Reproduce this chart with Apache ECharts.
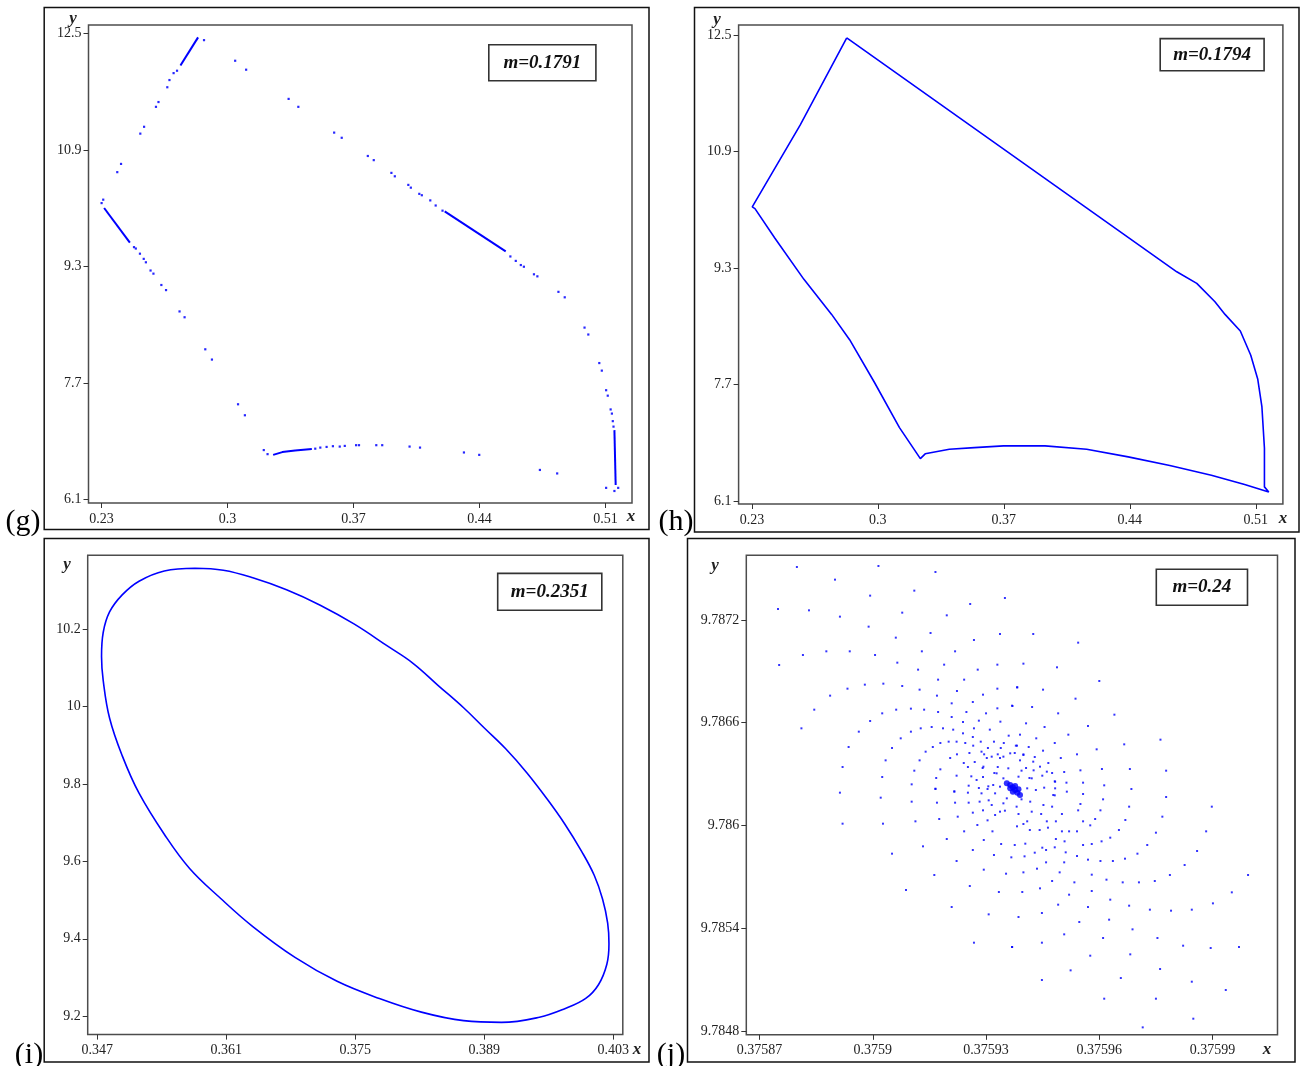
<!DOCTYPE html>
<html><head><meta charset="utf-8">
<script src="https://cdn.jsdelivr.net/npm/echarts@6/dist/echarts.min.js"></script>
<style>html,body{margin:0;padding:0;background:#fff}#c{width:1301px;height:1066px}</style>
</head><body><div id="c"></div>
<script>
// ---------- tick values ----------
const gXTicks = [0.23, 0.3, 0.37, 0.44, 0.51];
const gYTicks = [6.1, 7.7, 9.3, 10.9, 12.5];
const hXTicks = [0.23, 0.3, 0.37, 0.44, 0.51];
const hYTicks = [6.1, 7.7, 9.3, 10.9, 12.5];
const iXTicks = [0.347, 0.361, 0.375, 0.389, 0.403];
const iYTicks = [9.2, 9.4, 9.6, 9.8, 10, 10.2];
const jXTicks = [0.37587, 0.3759, 0.37593, 0.37596, 0.37599];
const jYTicks = [9.7848, 9.7854, 9.786, 9.7866, 9.7872];
const panelLabels = ['(g)', '(h)', '(i)', '(j)'];
const mLabels = ['m=0.1791', 'm=0.1794', 'm=0.2351', 'm=0.24'];

// ---------- (g) m=0.1791 : scattered points + dense segments ----------
const gDots = [
  [0.2387,10.597],[0.2408,10.710],[0.2515,11.126],[0.2536,11.220],[0.2602,11.494],[0.2616,11.560],[0.2665,11.763],[0.2677,11.862],[0.2700,11.957],[0.2719,11.990],[0.2869,12.410],
  [0.2309,10.219],[0.2300,10.172],[0.2480,9.567],[0.2490,9.548],[0.2513,9.477],[0.2534,9.406],[0.2546,9.359],[0.2572,9.246],[0.2588,9.203],[0.2632,9.047],[0.2658,8.977],[0.2733,8.684],[0.2761,8.604],[0.2876,8.164],[0.2913,8.023],[0.3058,7.409],[0.3096,7.258],
  [0.3201,6.780],[0.3222,6.724],[0.3487,6.799],[0.3515,6.814],[0.3550,6.823],[0.3585,6.833],[0.3623,6.828],[0.3651,6.837],[0.3714,6.847],[0.3730,6.847],[0.3826,6.847],[0.3859,6.847],[0.4011,6.828],[0.4069,6.814],[0.4313,6.747],[0.4398,6.714],[0.4735,6.507],[0.4831,6.459],
  [0.4838,8.953],[0.4873,8.878],[0.4983,8.462],[0.5004,8.367],[0.5065,7.975],[0.5079,7.871],[0.5103,7.602],[0.5112,7.527],[0.5128,7.338],[0.5135,7.281],[0.5140,7.177],[0.5144,7.102],[0.5103,6.261],[0.5149,6.218],[0.5170,6.261],
  [0.3042,12.127],[0.3103,12.004],[0.3339,11.603],[0.3393,11.494],[0.3592,11.140],[0.3634,11.069],[0.3779,10.819],[0.3812,10.762],[0.3910,10.587],[0.3929,10.540],[0.4004,10.422],[0.4018,10.384],[0.4065,10.299],[0.4079,10.280],[0.4126,10.209],[0.4156,10.139],[0.4194,10.068],[0.4571,9.439],[0.4601,9.378],[0.4629,9.321],[0.4646,9.298],[0.4702,9.194],[0.4721,9.166]
];
const gSegA = [[0.2738,12.061],[0.2836,12.448]];
const gSegB = [[0.2314,10.105],[0.2457,9.628]];
const gSegC = [[0.4206,10.058],[0.4545,9.510]];
const gSegD = [[0.3253,6.714],[0.3304,6.752],[0.3375,6.775],[0.3468,6.795]];
const gSegE = [[0.5149,7.054],[0.5156,6.299]];

// ---------- (h) m=0.1794 : closed orbit ----------
const hPath = [
  [0.2827,12.460],[0.2568,11.262],[0.2302,10.140],[0.2317,10.116],
  [0.2427,9.712],[0.2589,9.144],[0.2743,8.663],[0.2843,8.315],[0.2982,7.724],[0.3120,7.108],[0.3236,6.682],
  [0.3263,6.748],[0.3397,6.810],[0.3536,6.833],[0.3698,6.857],[0.3929,6.857],[0.4160,6.810],[0.4391,6.706],[0.4622,6.588],[0.4853,6.455],[0.5038,6.327],[0.5172,6.223],
  [0.5148,6.294],[0.5148,6.824],[0.5134,7.392],[0.5111,7.771],[0.5072,8.102],[0.5014,8.434],[0.4929,8.663],[0.4873,8.836],[0.4772,9.088],[0.4661,9.248],
  [0.2827,12.460]
];

// ---------- (i) m=0.2351 : closed curve ----------
const iPath = [
  [0.35761,10.3572],[0.36068,10.3519],[0.36388,10.3325],[0.36754,10.3016],[0.37120,10.2618],[0.37486,10.2133],[0.37852,10.1558],[0.38127,10.1117],[0.38401,10.0542],[0.38676,9.9968],
  [0.38904,9.9438],[0.39133,9.8908],[0.39362,9.8290],[0.39591,9.7583],[0.39774,9.6965],[0.39957,9.6258],[0.40094,9.5640],[0.40185,9.5021],[0.40240,9.4403],[0.40254,9.3873],
  [0.40231,9.3343],[0.40140,9.2813],[0.40002,9.2459],[0.39774,9.2194],[0.39499,9.1974],[0.39087,9.1841],[0.38676,9.1885],[0.38218,9.2106],[0.37761,9.2459],[0.37303,9.2901],
  [0.36846,9.3519],[0.36388,9.4315],[0.36040,9.5040],[0.35702,9.5816],[0.35427,9.6700],[0.35153,9.7760],[0.34970,9.8731],[0.34833,9.9703],[0.34764,10.0675],[0.34746,10.1293],
  [0.34764,10.1912],[0.34833,10.2442],[0.34970,10.2883],[0.35153,10.3237],[0.35427,10.3502],[0.35761,10.3572]
];

// ---------- (j) m=0.24 : spiral of iterates ----------
const jDots = [
  [0.3758799,9.7875088],[0.3759015,9.7875147],[0.3759166,9.7874796],[0.3758900,9.7874349],[0.3759110,9.7873707],[0.3758993,9.7873415],[0.3759350,9.7873278],[0.3759258,9.7872928],[0.3758749,9.7872636],[0.3758831,9.7872558],
  [0.3759078,9.7872422],[0.3758913,9.7872189],[0.3759196,9.7872266],[0.3758989,9.7871605],[0.3759153,9.7871235],[0.3759337,9.7871177],[0.3759061,9.7870963],[0.3759268,9.7870826],[0.3758815,9.7869951],[0.3758877,9.7870165],
  [0.3758939,9.7870165],[0.3759006,9.7869951],[0.3759130,9.7870165],[0.3759218,9.7870165],[0.3758752,9.7869367],[0.3759065,9.7869503],[0.3759120,9.7869095],[0.3759189,9.7869386],[0.3759330,9.7869386],[0.3759278,9.7869095],
  [0.3758979,9.7868219],[0.3759028,9.7868277],[0.3759078,9.7868141],[0.3758933,9.7867985],[0.3759124,9.7867927],[0.3759173,9.7868511],[0.3759242,9.7868511],[0.3759223,9.7867849],[0.3759330,9.7867985],[0.3759382,9.7868063],
  [0.3758887,9.7867577],[0.3759170,9.7867577],[0.3759292,9.7867635],[0.3759209,9.7867129],[0.3759265,9.7867207],[0.3758845,9.7866759],[0.3759025,9.7866545],[0.3759062,9.7866759],[0.3759101,9.7866818],[0.3759136,9.7866759],
  [0.3759173,9.7866623],[0.3759248,9.7866623],[0.3759300,9.7866545],[0.3759330,9.7866837],[0.3759369,9.7866993],[0.3759209,9.7866331],[0.3758993,9.7866098],[0.3759239,9.7866039],[0.3759281,9.7866117],[0.3759338,9.7866059],
  [0.3758811,9.7865670],[0.3758963,9.7865475],[0.3759101,9.7865475],[0.3759127,9.7865670],[0.3759156,9.7865747],[0.3759186,9.7865670],[0.3759213,9.7865592],[0.3759239,9.7865378],[0.3759268,9.7865670],[0.3759310,9.7865592],
  [0.3759360,9.7865241],[0.3759347,9.7864813],[0.3759074,9.7865086],[0.3759179,9.7864813],[0.3759201,9.7864891],[0.3759222,9.7864891],[0.3759245,9.7864813],[0.3759265,9.7865164],[0.3759286,9.7864891],[0.3759321,9.7864891],
  [0.3758936,9.7864580],[0.3759051,9.7864521],[0.3759159,9.7864580],[0.3759266,9.7864658],[0.3759305,9.7864521],[0.3759339,9.7864521],[0.3759379,9.7864658],[0.3759140,9.7864307],[0.3759223,9.7864152],[0.3759256,9.7864230],
  [0.3759295,9.7864152],[0.3759331,9.7864152],[0.3759376,9.7864230],[0.3759034,9.7863801],[0.3759124,9.7863801],[0.3759205,9.7863938],[0.3759241,9.7863646],[0.3759270,9.7863704],[0.3759302,9.7863938],[0.3759337,9.7863938],
  [0.3758920,9.7863412],[0.3759252,9.7863412],[0.3759291,9.7863354],[0.3759331,9.7863412],[0.3759179,9.7863276],[0.3759110,9.7863198],[0.3759025,9.7862828],[0.3759168,9.7862770],[0.3759222,9.7862906],[0.3759261,9.7862867],
  [0.3759292,9.7862828],[0.3759322,9.7863062],[0.3759103,9.7862400],[0.3759166,9.7862147],[0.3759216,9.7861992],[0.3759254,9.7862322],[0.3759306,9.7862284],
  [0.3759425,9.7871177],[0.3759544,9.7870671],[0.3759399,9.7869445],[0.3759488,9.7869231],[0.3759600,9.7868433],[0.3759383,9.7868063],[0.3759451,9.7867927],[0.3759537,9.7867401],[0.3759370,9.7866973],[0.3759422,9.7866915],
  [0.3759491,9.7866545],[0.3759640,9.7866467],[0.3759406,9.7865961],[0.3759455,9.7865747],[0.3759570,9.7865806],[0.3759390,9.7865300],[0.3759433,9.7865086],[0.3759518,9.7865300],[0.3759762,9.7865008],[0.3759482,9.7864813],
  [0.3759666,9.7864735],[0.3759382,9.7864658],[0.3759413,9.7864580],[0.3759593,9.7864444],[0.3759451,9.7864366],[0.3759399,9.7864152],[0.3759429,9.7863996],[0.3759541,9.7864152],[0.3759498,9.7863938],[0.3759390,9.7863801],
  [0.3759465,9.7863646],[0.3759443,9.7863432],[0.3759406,9.7863354],[0.3759426,9.7863218],[0.3759550,9.7863218],[0.3759607,9.7863295],[0.3759681,9.7863295],[0.3759777,9.7863198],[0.3759507,9.7863120],[0.3759475,9.7863062],
  [0.3759449,9.7862906],[0.3759415,9.7862770],[0.3759482,9.7862575],[0.3759513,9.7862498],[0.3759557,9.7862498],[0.3759613,9.7862342],[0.3759454,9.7862206],[0.3759685,9.7862128],
  [0.3758913,9.7861914],[0.3759021,9.7861622],[0.3759166,9.7862128],[0.3759216,9.7861973],[0.3759252,9.7861914],[0.3759281,9.7862187],[0.3759304,9.7862128],[0.3759103,9.7861389],[0.3759170,9.7861330],[0.3759218,9.7861330],
  [0.3759254,9.7861330],[0.3759283,9.7861389],[0.3759307,9.7861467],[0.3758920,9.7860104],[0.3759027,9.7860104],[0.3759113,9.7860241],[0.3759176,9.7860377],[0.3759225,9.7860513],[0.3759265,9.7860747],[0.3759292,9.7860883],
  [0.3759304,9.7860299],[0.3759324,9.7860610],[0.3759337,9.7860805],[0.3759242,9.7859657],[0.3759277,9.7860027],[0.3759317,9.7859657],[0.3759196,9.7859209],[0.3759294,9.7859151],[0.3759340,9.7858917],[0.3759133,9.7858781],
  [0.3759265,9.7858567],[0.3759321,9.7858275],[0.3759367,9.7858139],[0.3759051,9.7858353],[0.3759222,9.7857925],[0.3759294,9.7857419],[0.3759353,9.7857185],[0.3759163,9.7857108],[0.3759257,9.7856465],[0.3759334,9.7856115],
  [0.3759088,9.7856232],[0.3759209,9.7855239],[0.3759307,9.7854811],[0.3759268,9.7853157],[0.3759369,9.7852904],
  [0.3759777,9.7861661],[0.3759898,9.7861097],[0.3759610,9.7861525],[0.3759557,9.7861836],[0.3759514,9.7861973],[0.3759482,9.7861758],[0.3759679,9.7861097],[0.3759603,9.7860883],[0.3759550,9.7861253],
  [0.3759544,9.7860883],[0.3759767,9.7860513],[0.3759669,9.7860318],[0.3759589,9.7860377],[0.3759883,9.7859657],[0.3759750,9.7859579],[0.3759652,9.7859735],[0.3759576,9.7860007],[0.3759606,9.7859073],[0.3759629,9.7859287],
  [0.3759727,9.7858859],[0.3759859,9.7858509],[0.3759701,9.7858353],[0.3759668,9.7858061],[0.3759636,9.7857925],[0.3759603,9.7857925],[0.3759570,9.7858003],[0.3759541,9.7858217],[0.3759826,9.7857691],[0.3759787,9.7857108],
  [0.3759994,9.7857108],[0.3759747,9.7856757],[0.3759705,9.7856679],[0.3759662,9.7856679],[0.3759619,9.7856835],[0.3759580,9.7857127],[0.3759534,9.7856679],[0.3759951,9.7856096],[0.3759629,9.7855668],[0.3759580,9.7856173],
  [0.3759520,9.7855959],[0.3759901,9.7855453],[0.3759845,9.7855084],[0.3759790,9.7855025],[0.3759734,9.7855084],[0.3759679,9.7855317],[0.3759570,9.7855239],[0.3759491,9.7855376],[0.3759688,9.7853936],[0.3759626,9.7854500],
  [0.3759547,9.7854364],[0.3759610,9.7853430],[0.3759507,9.7853644],[0.3759448,9.7854889],[0.3759970,9.7852904],[0.3759895,9.7852846],[0.3759822,9.7852982],[0.3759754,9.7853430],[0.3759682,9.7852476],[0.3759576,9.7852398],
  [0.3759448,9.7853157],[0.3759761,9.7851620],[0.3759524,9.7851542],[0.3759845,9.7850880],[0.3759935,9.7850394],[0.3759657,9.7851094],[0.3759448,9.7850978],[0.3759613,9.7849888],[0.3759750,9.7849888],[0.3759849,9.7848720],
  [0.3759715,9.7848214],[0.3759396,9.7856115],[0.3759386,9.7854656],[0.3759369,9.7852904],[0.3759399,9.7857263],[0.3759443,9.7856329],[0.3759475,9.7856757],[0.3759495,9.7857263],[0.3759459,9.7857847],[0.3759507,9.7857847],
  [0.3759435,9.7857477],[0.3759402,9.7858197],[0.3759429,9.7858411],[0.3759459,9.7858567],[0.3759482,9.7858723],[0.3759511,9.7858431],[0.3759580,9.7858917],[0.3759376,9.7858859],[0.3759404,9.7858937],[0.3759449,9.7858703],
  [0.3759485,9.7859209],[0.3759508,9.7859073],[0.3759557,9.7858859],[0.3759501,9.7859657],[0.3759520,9.7859657],[0.3759541,9.7859657],[0.3759557,9.7860241],[0.3759485,9.7860241],[0.3759461,9.7860241],[0.3759399,9.7860085],
  [0.3759416,9.7859735],[0.3759442,9.7859735],[0.3759464,9.7859871],[0.3759382,9.7859949],[0.3759475,9.7861097],[0.3759446,9.7860669],[0.3759409,9.7860241],[0.3759501,9.7860669],
  [0.3759288,9.7864308],[0.3759315,9.7864016],[0.3759346,9.7864016],[0.3759364,9.7864211],[0.3759399,9.7864113],[0.3759425,9.7863724],[0.3759461,9.7863140],[0.3759483,9.7862556],[0.3759483,9.7862167],[0.3759478,9.7861778],
  [0.3759452,9.7861194],[0.3759421,9.7860805],[0.3759386,9.7860669],[0.3759350,9.7860863],[0.3759315,9.7861194],[0.3759288,9.7861875],[0.3759275,9.7862654],[0.3759293,9.7863432],
  [0.3759328,9.7863043],[0.3759359,9.7863335],[0.3759394,9.7863199],[0.3759421,9.7862751],[0.3759432,9.7862070],[0.3759417,9.7861389],[0.3759381,9.7861097],[0.3759346,9.7861292],[0.3759324,9.7861875],[0.3759319,9.7862362],
  [0.3759346,9.7862751],[0.3759386,9.7862848],[0.3759409,9.7862167],[0.3759394,9.7861525],[0.3759355,9.7861583],[0.3759337,9.7862265]
];
const jCore = [
  [0.3759355,9.7862459],[0.3759364,9.7862362],[0.3759371,9.7862226],[0.3759377,9.7862070],[0.3759383,9.7861914],
  [0.3759390,9.7861778],[0.3759364,9.7862167],[0.3759377,9.7862304],[0.3759371,9.7861973],[0.3759386,9.7862109]
];

// ---------- layout ----------
const BLUE = '#0000ff';
const SERIF = '"Liberation Serif", "Times New Roman", serif';
const grids = [
  {left: 88.5, top: 25, width: 543.5, height: 478},
  {left: 738.6, top: 25, width: 544.3, height: 479},
  {left: 87.7, top: 555.3, width: 535.1, height: 479.3},
  {left: 746.3, top: 555.3, width: 531.2, height: 479.5}
];
const ranges = [
  {x: [0.22272, 0.52467], y: [6.053, 12.618]},
  {x: [0.22261, 0.52506], y: [6.059, 12.637]},
  {x: [0.345958, 0.404042], y: [9.1525, 10.3906]},
  {x: [0.3758665, 0.3760072], y: [9.784778, 9.787577]}
];
const xTicks = [gXTicks, hXTicks, iXTicks, jXTicks];
const yTicks = [gYTicks, hYTicks, iYTicks, jYTicks];
const fmt = v => String(+(+v).toFixed(6));

function axis(i, dir) {
  const r = dir === 'x' ? ranges[i].x : ranges[i].y;
  const t = dir === 'x' ? xTicks[i] : yTicks[i];
  return {
    type: 'value', gridIndex: i, min: r[0], max: r[1], scale: true,
    axisLine: {show: false},
    splitLine: {show: false},
    axisTick: {show: true, inside: false, length: 5, customValues: t, lineStyle: {color: '#333', width: 1}},
    axisLabel: {customValues: t, formatter: fmt, fontFamily: SERIF, fontSize: 14, color: '#222', margin: dir === 'x' ? 9 : 7}
  };
}

const series = [];
series.push({type: 'scatter', xAxisIndex: 0, yAxisIndex: 0, data: gDots, symbol: 'rect', symbolSize: 2.2, itemStyle: {color: BLUE, opacity: 0.85}, silent: true});
[gSegA, gSegB, gSegC, gSegD, gSegE].forEach(s => series.push({type: 'line', xAxisIndex: 0, yAxisIndex: 0, data: s, showSymbol: false, symbol: 'none', lineStyle: {color: BLUE, width: 2}, silent: true}));
series.push({type: 'line', xAxisIndex: 1, yAxisIndex: 1, data: hPath, symbol: 'none', lineStyle: {color: BLUE, width: 1.6}, silent: true});
series.push({type: 'line', xAxisIndex: 2, yAxisIndex: 2, data: iPath, symbol: 'none', smooth: 0.4, lineStyle: {color: BLUE, width: 1.6}, silent: true});
series.push({type: 'scatter', xAxisIndex: 3, yAxisIndex: 3, data: jDots, symbol: 'rect', symbolSize: 2, itemStyle: {color: BLUE, opacity: 0.8}, silent: true});
series.push({type: 'scatter', xAxisIndex: 3, yAxisIndex: 3, data: jCore, symbol: 'circle', symbolSize: 6, itemStyle: {color: BLUE}, silent: true});

const frames = [
  [44.2, 7.6, 604.8, 522], [694.5, 7.6, 604.5, 524.4], [44.2, 538.5, 604.8, 523.5], [687.5, 538.5, 607.5, 523.5]
];
const mBoxes = [
  [488.8, 44.7, 107.1, 36.1], [1160.2, 38.6, 103.9, 32.1], [497.7, 573.4, 104.1, 36.9], [1156.3, 569.3, 91.2, 35.9]
];
const yLabelPos = [[73, 19], [717, 20], [67, 565], [715, 566]];
const xLabelPos = [[631, 517], [1283, 519], [637, 1050], [1267, 1050]];
const panelPos = [[23, 522], [676, 522], [29, 1055], [671, 1055]];

const graphic = [];
frames.forEach(f => graphic.push({type: 'rect', silent: true, z: 0, shape: {x: f[0], y: f[1], width: f[2], height: f[3]}, style: {fill: 'none', stroke: '#111', lineWidth: 1.5}}));
mBoxes.forEach((b, k) => {
  graphic.push({type: 'rect', silent: true, z: 50, shape: {x: b[0], y: b[1], width: b[2], height: b[3]}, style: {fill: '#fff', stroke: '#333', lineWidth: 1.6}});
  graphic.push({type: 'text', silent: true, z: 51, x: b[0] + b[2] / 2, y: b[1] + b[3] / 2, style: {text: mLabels[k], font: 'italic bold 19px ' + SERIF, fill: '#111', align: 'center', verticalAlign: 'middle'}});
});
yLabelPos.forEach(p => graphic.push({type: 'text', silent: true, z: 51, x: p[0], y: p[1], style: {text: 'y', font: 'italic bold 17px ' + SERIF, fill: '#222', align: 'center', verticalAlign: 'middle'}}));
xLabelPos.forEach(p => graphic.push({type: 'text', silent: true, z: 51, x: p[0], y: p[1], style: {text: 'x', font: 'italic bold 17px ' + SERIF, fill: '#222', align: 'center', verticalAlign: 'middle'}}));
panelPos.forEach((p, k) => graphic.push({type: 'text', silent: true, z: 51, x: p[0], y: p[1], style: {text: panelLabels[k], font: 'normal 30px ' + SERIF, fill: '#000', align: 'center', verticalAlign: 'middle'}}));

const chart = echarts.init(document.getElementById('c'), null, {renderer: 'canvas'});
chart.setOption({
  animation: false,
  backgroundColor: '#fff',
  grid: grids.map(g => Object.assign({show: true, borderColor: '#4d4d4d', borderWidth: 1.5, backgroundColor: 'transparent', containLabel: false}, g)),
  xAxis: [0, 1, 2, 3].map(i => axis(i, 'x')),
  yAxis: [0, 1, 2, 3].map(i => axis(i, 'y')),
  series: series,
  graphic: graphic
});
</script>
</body></html>
